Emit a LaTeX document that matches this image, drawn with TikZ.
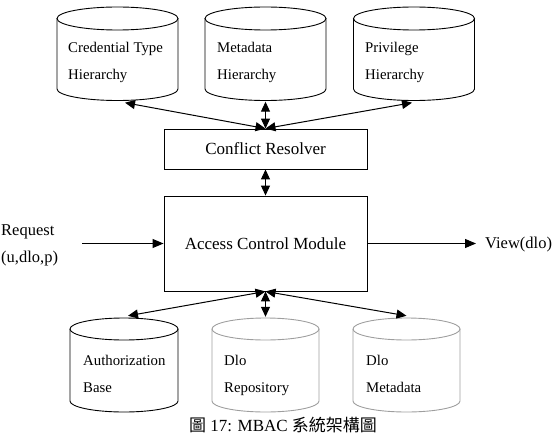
\documentclass[tikz,border=0pt]{standalone}
\usepackage{fontspec}
\setmainfont{Liberation Serif}
\newfontfamily\cjk{Noto Sans CJK TC}
\usetikzlibrary{arrows.meta}

\definecolor{rimgray}{gray}{0.62}

% database drum: name, centre x, x radius, y radius, top-cap y, bottom-cap y, colour
\newcommand\drum[7]{%
  \draw[drumline,#7] ({#2-#3},#5) -- ({#2-#3},#6)
    arc[start angle=180,end angle=360,x radius=#3,y radius=#4] -- ({#2+#3},#5);
  \draw[drumline,#7] (#2,#5) ellipse[x radius=#3,y radius=#4];
  \path (#2,{(#5+#6)/2}) node[inner sep=0pt,minimum width={2*#3},
        minimum height={#5-#6+2*#4}] (#1) {};
}

\tikzset{
  x=1pt,y=1pt,
  drumline/.style={line width=0.9pt},
  box/.style={draw,line width=0.9pt,inner sep=0pt,minimum width=203pt,
              font=\fontsize{17}{20}\selectfont},
  drumtext/.style={anchor=base west,inner sep=0pt,align=left,
              font=\fontsize{14.8}{27}\selectfont},
  sidetext/.style={anchor=base west,inner sep=0pt,align=left,
              font=\fontsize{16.5}{27}\selectfont},
  link/.style={line width=1pt,{Triangle[length=10pt,width=9pt]}-{Triangle[length=10pt,width=9pt]}},
  flow/.style={line width=1pt,-{Triangle[length=11pt,width=9pt]}},
}

\begin{document}
\begin{tikzpicture}
\useasboundingbox (0,0) rectangle (559,440);

% hierarchies on top (text nodes anchored at the baseline of their last line)
\drum{cth}{117.5}{60.5}{11.5}{421.5}{351}{black}
\drum{mdh}{265.5}{60.5}{11.5}{421.5}{351}{black}
\drum{pvh}{414}{60.5}{11.5}{421.5}{351}{black}
\node[drumtext] (cthtxt) at (68,360) {Credential Type\\Hierarchy};
\node[drumtext] (mdhtxt) at (217,360) {Metadata\\Hierarchy};
\node[drumtext] (pvhtxt) at (365,360) {Privilege\\Hierarchy};

% stores at the bottom
\drum{authb}{124}{54}{11}{111}{39}{black}
\drum{dlorep}{265.5}{53.5}{11}{111}{39}{rimgray}
\drum{dlomd}{406.5}{53.5}{11}{111}{39}{rimgray}
\node[drumtext] (authtxt) at (83,48) {Authorization\\Base};
\node[drumtext] (reptxt) at (224,48) {Dlo\\Repository};
\node[drumtext] (mdtxt) at (366,48) {Dlo\\Metadata};

% central modules
\node[box,minimum height=40pt] (cr) at (265.5,291) {Conflict Resolver};
\node[box,minimum height=95pt] (acm) at (265.5,196.5) {Access Control Module};

% request in, view out
\node[sidetext] (req) at (1,178) {Request\\(u,dlo,p)};
\node[sidetext] (view) at (485,192) {View(dlo)};
\coordinate (reqend) at (82,196.5);
\coordinate (viewend) at (476,196.5);
\draw[flow] (reqend) -- (acm.west);
\draw[flow] (acm.east) -- (viewend);

% resolver <-> hierarchies
\draw[link] (cr.north) -- ([xshift=7.5pt,yshift=-2pt]cth.south);
\draw[link] (cr.north) -- ([yshift=-1pt]mdh.south);
\draw[link] (cr.north) -- ([xshift=-2pt,yshift=-2pt]pvh.south);

% resolver <-> control module
\draw[link] (cr.south) -- (acm.north);

% control module <-> stores
\draw[link] (acm.south) -- ([xshift=4pt,yshift=2pt]authb.north);
\draw[link] (acm.south) -- ([yshift=1pt]dlorep.north);
\draw[link] (acm.south) -- ([yshift=2pt]dlomd.north);

% caption
\node[anchor=base,inner sep=0pt,font=\fontsize{17}{19}\selectfont] (cap) at (283,9)
  {{\cjk 圖} 17: MBAC {\cjk 系統架構圖}};
\end{tikzpicture}
\end{document}
